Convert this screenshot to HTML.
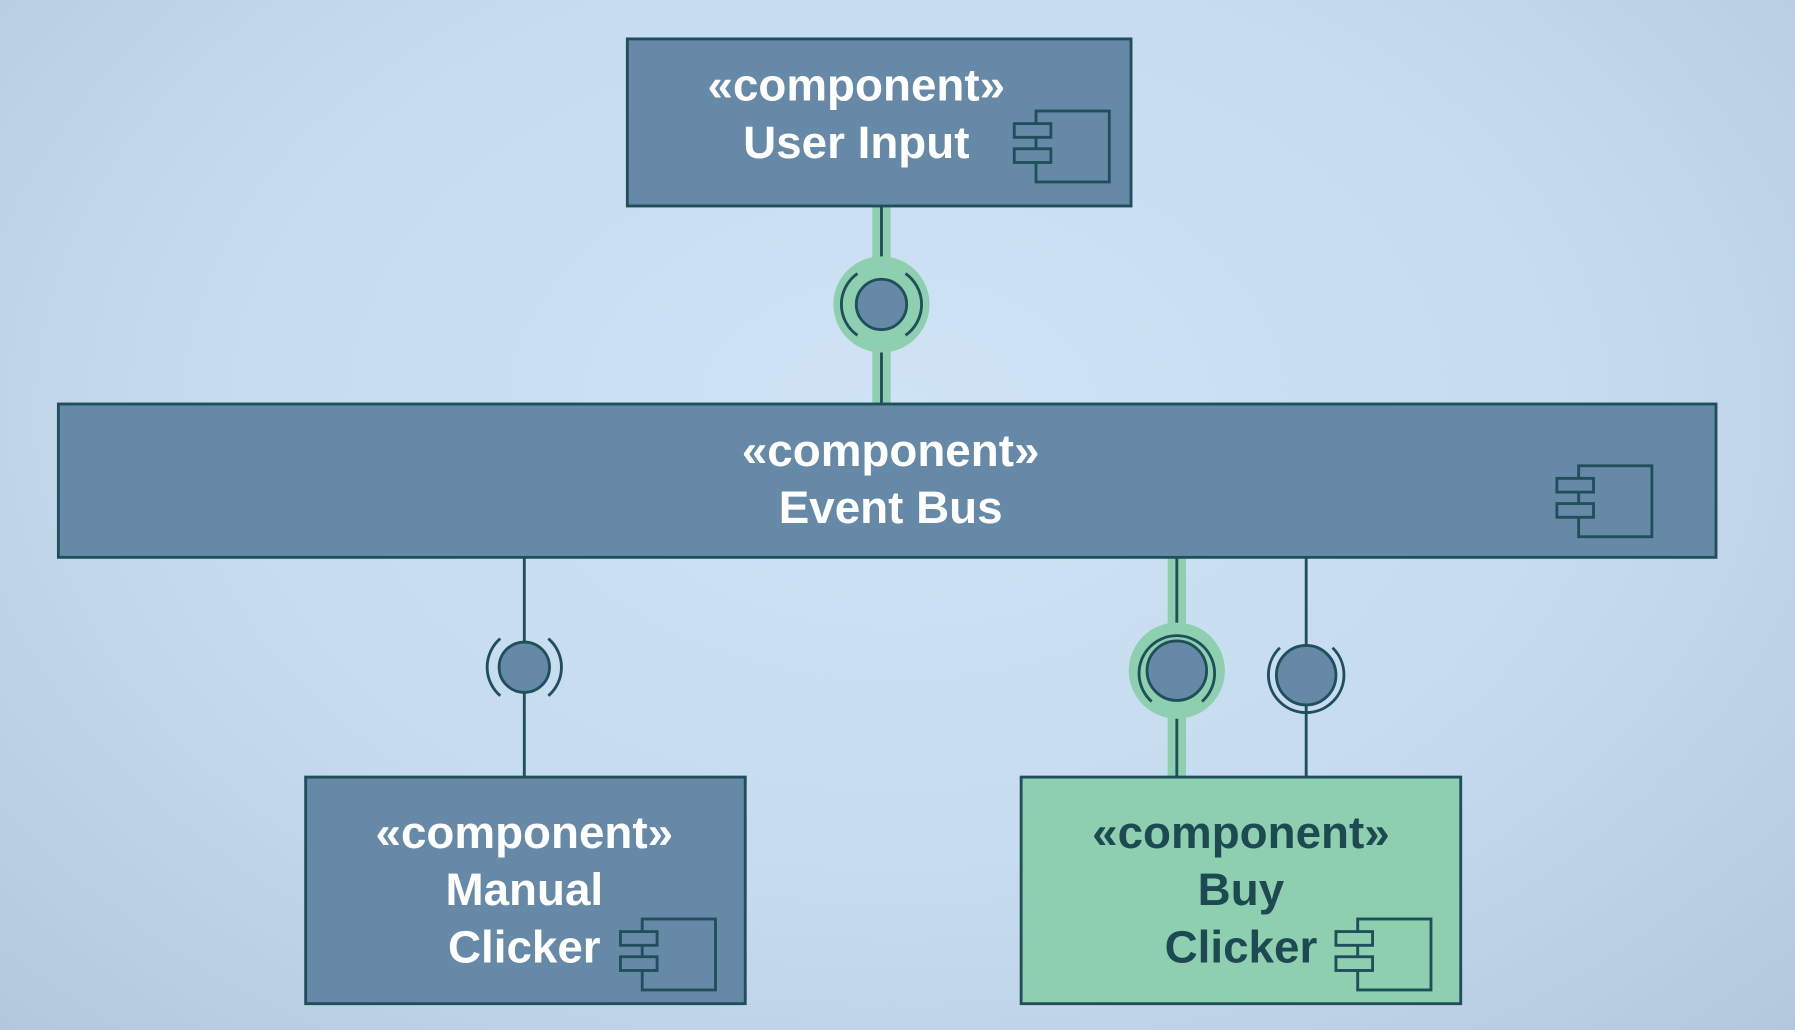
<!DOCTYPE html>
<html><head><meta charset="utf-8"><style>
html,body{margin:0;padding:0;width:1795px;height:1030px;overflow:hidden;}
body{background:radial-gradient(ellipse at 50% 40%,#cfe3f5 0%,#c6dbef 55%,#b3c8dc 100%);}
svg{display:block}
text{font-family:"Liberation Sans",sans-serif;font-weight:bold;font-size:40px;text-anchor:middle}
</style></head><body>
<svg width="1795" height="1030" viewBox="0 0 1568 900" preserveAspectRatio="none">
<defs>
<g id="ic" fill="none" stroke="#1f4f5a" stroke-width="2.5">
<rect x="19" y="0" width="64" height="62"/>
<rect x="0" y="11" width="32" height="12" fill="#6689a8"/>
<rect x="0" y="33" width="32" height="12" fill="#6689a8"/>
</g>
<g id="icg" fill="none" stroke="#1f4f5a" stroke-width="2.5">
<rect x="19" y="0" width="64" height="62"/>
<rect x="0" y="11" width="32" height="12" fill="#8ecfb0"/>
<rect x="0" y="33" width="32" height="12" fill="#8ecfb0"/>
</g>
</defs>
<rect x="762" y="180" width="16" height="174" fill="#8ecfb0"/>
<line x1="770" y1="180" x2="770" y2="354" stroke="#1f4f5a" stroke-width="2.5"/>
<circle cx="770" cy="266" r="42" fill="#8ecfb0"/>
<path d="M749 293 A33 33 0 0 1 749 239 M791 239 A33 33 0 0 1 791 293" fill="none" stroke="#1f4f5a" stroke-width="2.5"/>
<circle cx="770" cy="266" r="22" fill="#6689a8" stroke="#1f4f5a" stroke-width="2.5"/>

<line x1="458" y1="488" x2="458" y2="680" stroke="#1f4f5a" stroke-width="2.5"/>
<path d="M437 608 A33 33 0 0 1 437 558 M479 558 A33 33 0 0 1 479 608" fill="none" stroke="#1f4f5a" stroke-width="2.5"/>
<circle cx="458" cy="583" r="22" fill="#6689a8" stroke="#1f4f5a" stroke-width="2.5"/>

<rect x="1020" y="488" width="16" height="192" fill="#8ecfb0"/>
<line x1="1028" y1="488" x2="1028" y2="680" stroke="#1f4f5a" stroke-width="2.5"/>
<circle cx="1028" cy="586" r="42" fill="#8ecfb0"/>
<path d="M1006 613 A33 33 0 1 1 1050 613" fill="none" stroke="#1f4f5a" stroke-width="2.5"/>
<circle cx="1028" cy="586" r="26" fill="#6689a8" stroke="#1f4f5a" stroke-width="2.5"/>

<line x1="1141" y1="488" x2="1141" y2="680" stroke="#1f4f5a" stroke-width="2.5"/>
<path d="M1118 566 A33 33 0 1 0 1164 566" fill="none" stroke="#1f4f5a" stroke-width="2.5"/>
<circle cx="1141" cy="590" r="26" fill="#6689a8" stroke="#1f4f5a" stroke-width="2.5"/>

<rect x="548" y="34" width="440" height="146" fill="#6689a8" stroke="#1f4f5a" stroke-width="2.5"/>
<text x="748" y="88" fill="#fff">«component»</text>
<text x="748" y="138" fill="#fff">User Input</text>
<use href="#ic" x="886" y="97"/>

<rect x="51" y="353" width="1448" height="134" fill="#6689a8" stroke="#1f4f5a" stroke-width="2.5"/>
<text x="778" y="407" fill="#fff">«component»</text>
<text x="778" y="457" fill="#fff">Event Bus</text>
<use href="#ic" x="1360" y="407"/>

<rect x="267" y="679" width="384" height="198" fill="#6689a8" stroke="#1f4f5a" stroke-width="2.5"/>
<text x="458" y="741" fill="#fff">«component»</text>
<text x="458" y="791" fill="#fff">Manual</text>
<text x="458" y="841" fill="#fff">Clicker</text>
<use href="#ic" x="542" y="803"/>

<rect x="892" y="679" width="384" height="198" fill="#8ecfb0" stroke="#1f4f5a" stroke-width="2.5"/>
<text x="1084" y="741" fill="#1d4a52">«component»</text>
<text x="1084" y="791" fill="#1d4a52">Buy</text>
<text x="1084" y="841" fill="#1d4a52">Clicker</text>
<use href="#icg" x="1167" y="803"/>
</svg>
</body></html>
